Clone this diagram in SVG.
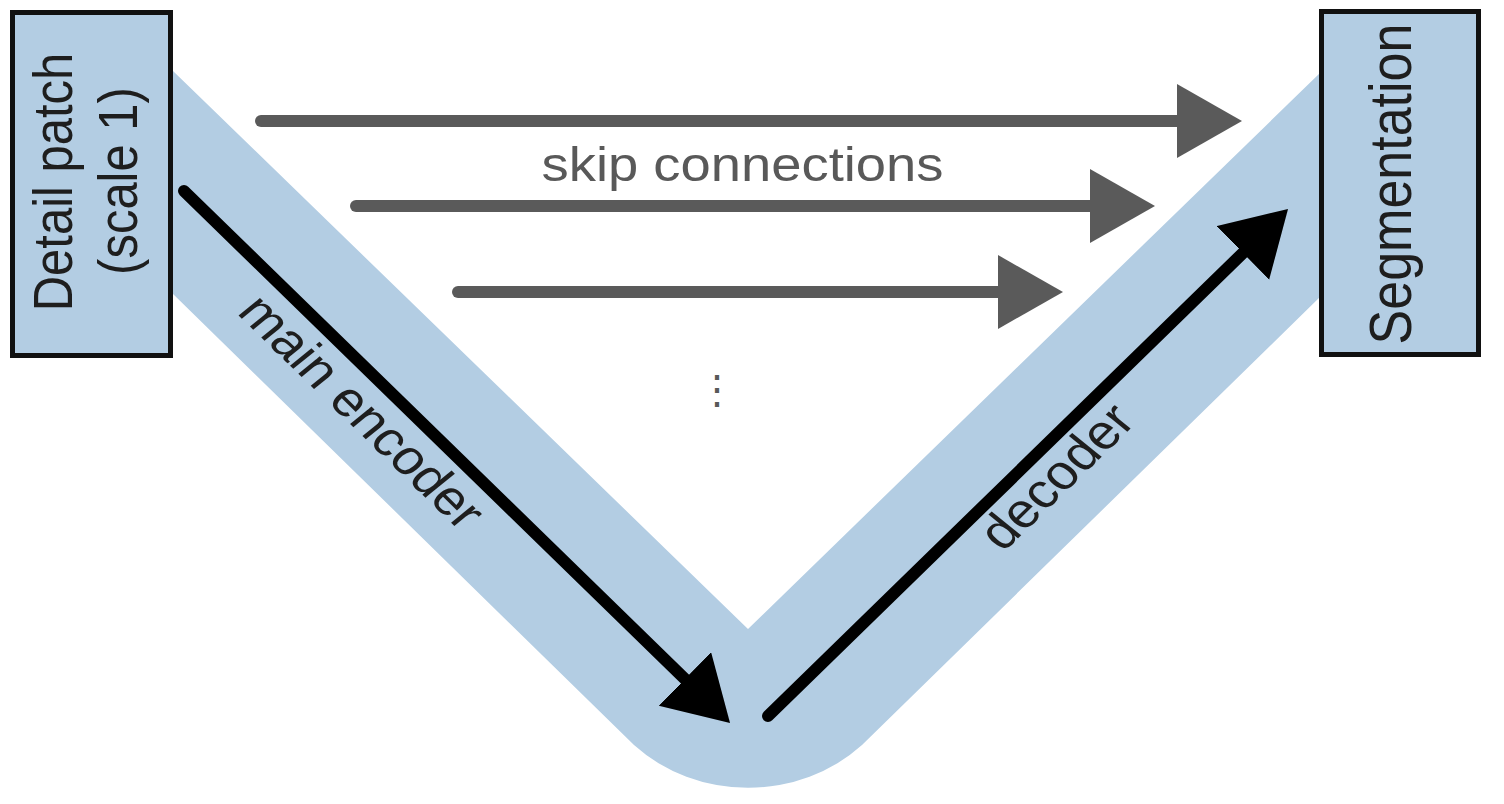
<svg xmlns="http://www.w3.org/2000/svg" width="1504" height="804" viewBox="0 0 1504 804">
<style>
  .band{fill:#b3cde3;stroke:none}
  .box{fill:#b3cde3;stroke:#111;stroke-width:5}
  .lbl{font-family:"Liberation Sans",Arial,sans-serif;font-size:49px;fill:#1e1e1e}
  .big{font-size:52px}
  .skiplbl{font-family:"Liberation Sans",Arial,sans-serif;font-size:49px;fill:#595959}
  .skip{stroke:#5a5a5a;stroke-width:12;stroke-linecap:round;fill:none}
  .main{stroke:#000;stroke-width:12;stroke-linecap:round;fill:none}
</style>
<defs>
  <marker id="ahGray" markerUnits="userSpaceOnUse" markerWidth="70" markerHeight="80" refX="5" refY="37" orient="auto">
    <path d="M0,0 L65,37 L0,74 Z" fill="#5a5a5a"/>
  </marker>
  <marker id="ahBlack" markerUnits="userSpaceOnUse" markerWidth="70" markerHeight="80" refX="5" refY="37.5" orient="auto">
    <path d="M0,0 L63,37.5 L0,75 Z" fill="#000"/>
  </marker>
</defs>
<rect width="1504" height="804" fill="#fff"/>
<g id="unet-band">
  <path class="band" d="M172,70 L748,629 L1321,72 L1321,296 L862,745 A163,150 0 0 1 634,745 L172,293 Z"/>
</g>
<g id="connectors">
  <line class="skip" x1="261" y1="121" x2="1182" y2="121" marker-end="url(#ahGray)"/>
  <line class="skip" x1="356" y1="206" x2="1095" y2="206" marker-end="url(#ahGray)"/>
  <line class="skip" x1="458" y1="292" x2="1003" y2="292" marker-end="url(#ahGray)"/>
  <line class="main" x1="184" y1="191" x2="688.5" y2="682.5" marker-end="url(#ahBlack)"/>
  <line class="main" x1="768" y1="716" x2="1246.5" y2="249.5" marker-end="url(#ahBlack)"/>
</g>
<g id="node-detail-patch">
  <rect class="box" x="12.5" y="12.5" width="158" height="343"/>
  <text class="lbl" text-anchor="middle" transform="translate(72,182) scale(1.124,1) rotate(-90)">Detail patch</text>
  <text class="lbl" text-anchor="middle" transform="translate(137,181) scale(1.124,1) rotate(-90)">(scale 1)</text>
</g>
<g id="node-segmentation">
  <rect class="box" x="1321.5" y="11.5" width="157" height="343"/>
  <text class="lbl big" text-anchor="middle" transform="translate(1411,184) scale(1.124,1) rotate(-90)">Segmentation</text>
</g>
<g id="labels">
  <text class="skiplbl" text-anchor="middle" transform="translate(742.5,181) scale(1.11,1)">skip connections</text>
  <text class="lbl" transform="translate(236,313) scale(1.124,1) rotate(47.6)">main encoder</text>
  <text class="lbl" transform="translate(1003,553) scale(1.124,1) rotate(-47.6)">decoder</text>
  <text class="skiplbl" text-anchor="middle" style="font-size:40px" x="717" y="403">⋮</text>
</g>
</svg>
